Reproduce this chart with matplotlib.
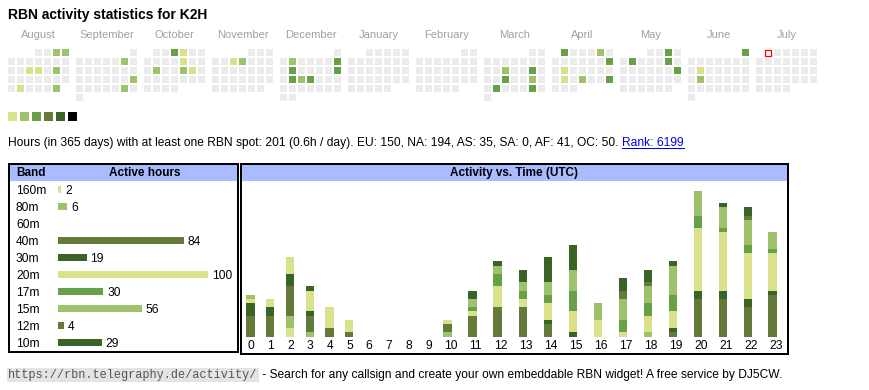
import calendar

import matplotlib
matplotlib.use("Agg")
import matplotlib.pyplot as plt
from matplotlib.patches import Rectangle
import numpy as np

W, H = 870, 390

# ---- data ----
CALLSIGN = "K2H"
month_names = ["August", "September", "October", "November", "December", "January",
               "February", "March", "April", "May", "June", "July"]
month_keys = [(2024, 8), (2024, 9), (2024, 10), (2024, 11), (2024, 12), (2025, 1),
              (2025, 2), (2025, 3), (2025, 4), (2025, 5), (2025, 6), (2025, 7)]
# activity level of each active day, per month (day -> level 1..6)
active_days = [
    {3: 2, 4: 2, 14: 1, 15: 1, 17: 2, 27: 1, 31: 2},
    {7: 2, 22: 2, 28: 2},
    {3: 3, 4: 1, 11: 1, 15: 2, 18: 2, 19: 1},
    {6: 1, 7: 2},
    {3: 2, 8: 3, 10: 3, 15: 3, 17: 3, 18: 2, 19: 3},
    {},
    {},
    {12: 2, 15: 3, 19: 3, 22: 2, 25: 3, 29: 3},
    {1: 3, 5: 2, 13: 3, 15: 1, 22: 1, 24: 2, 27: 3},
    {3: 3, 6: 3, 10: 3, 18: 3},
    {1: 3, 10: 1, 17: 2},
    {},
]
today = (2025, 7, 1)

level_colors = ["#ebebeb", "#d9e18a", "#9ec16b", "#67a048", "#637a3b", "#3a6427", "#000000"]

bands = ["160m", "80m", "60m", "40m", "30m", "20m", "17m", "15m", "12m", "10m"]
band_hours = [2, 6, 0, 84, 19, 100, 30, 56, 4, 29]
band_levels = [1, 2, 3, 4, 5, 1, 3, 2, 4, 5]

hours = list(range(24))
hourly_160m = [0, 0, 2, 0, 0, 0, 0, 0, 0, 0, 0, 0, 0, 0, 0, 0, 0, 0, 0, 0, 0, 0, 0, 0]
hourly_80m = [0, 0, 3, 1, 0, 0, 0, 0, 0, 0, 1, 0, 0, 0, 0, 0, 0, 0, 1, 0, 0, 0, 0, 0]
hourly_60m = [0, 0, 0, 0, 0, 0, 0, 0, 0, 0, 0, 0, 0, 0, 0, 0, 0, 0, 0, 0, 0, 0, 0, 0]
hourly_40m = [5, 5, 7, 4, 2, 1, 0, 0, 0, 0, 2, 5, 7, 7, 3, 0, 0, 0, 0, 1, 9, 9, 7, 10]
hourly_30m = [3, 2, 3, 1, 0, 0, 0, 0, 0, 0, 0, 0, 0, 0, 1, 1, 0, 0, 0, 1, 2, 2, 2, 1]
hourly_20m = [1, 2, 4, 5, 5, 3, 0, 0, 0, 0, 1, 1, 5, 2, 4, 5, 4, 1, 4, 4, 15, 14, 11, 9]
hourly_17m = [0, 0, 0, 0, 0, 0, 0, 0, 0, 0, 0, 1, 3, 2, 2, 5, 0, 3, 3, 4, 3, 1, 2, 1]
hourly_15m = [1, 0, 0, 0, 0, 0, 0, 0, 0, 0, 0, 2, 2, 2, 3, 5, 4, 5, 4, 7, 6, 5, 6, 4]
hourly_12m = [0, 0, 0, 0, 0, 0, 0, 0, 0, 0, 0, 0, 0, 0, 0, 0, 0, 2, 1, 0, 0, 0, 1, 0]
hourly_10m = [0, 0, 0, 1, 0, 0, 0, 0, 0, 0, 0, 2, 1, 3, 6, 6, 0, 3, 3, 1, 0, 1, 2, 0]

total_hours = 201
per_day = 0.6
continents = ["EU", "NA", "AS", "SA", "AF", "OC"]
continent_hours = [150, 194, 35, 0, 41, 50]
rank = 6199

url = "https://rbn.telegraphy.de/activity/"
footer = " - Search for any callsign and create your own embeddable RBN widget! A free service by DJ5CW."

# ---- layout ----
plt.rcParams["font.family"] = ["Liberation Sans", "DejaVu Sans"]
HEADER_BLUE = "#aabbff"
TEXT_PT = 8.63

fig = plt.figure(figsize=(W / 100, H / 100), dpi=100)
bg = fig.add_axes([0, 0, 1, 1])
bg.set_xlim(0, W)
bg.set_ylim(H, 0)
bg.axis("off")


def px_axes(x0, y0, x1, y1):
    """Axes placed by pixel box (top-left origin)."""
    ax = fig.add_axes([x0 / W, 1 - y1 / H, (x1 - x0) / W, (y1 - y0) / H])
    ax.patch.set_alpha(0)
    for s in ax.spines.values():
        s.set_visible(False)
    return ax


bg.text(8, 19.5, f"RBN activity statistics for {CALLSIGN}", fontsize=10,
        fontweight="bold", va="baseline")

# calendar heat map
CELL, STEP, BLOCK = 7, 9, 68
cal_x0, cal_y0 = 8, 49
for m, ((year, month), name) in enumerate(zip(month_keys, month_names)):
    first_wd, ndays = calendar.monthrange(year, month)
    bx = cal_x0 + m * BLOCK
    bg.text(bx + (7 * STEP - 2) / 2, 38.5, name, ha="center", va="baseline",
            fontsize=8, color="#a0a0a0")
    for d in range(1, ndays + 1):
        row, col = divmod(first_wd + d - 1, 7)
        lvl = active_days[m].get(d, 0)
        if (year, month, d) == today:
            bg.add_patch(Rectangle((bx + col * STEP + 0.5, cal_y0 + row * STEP + 0.5),
                                   CELL - 1, CELL - 1, facecolor="white",
                                   edgecolor="red", lw=0.9))
        else:
            bg.add_patch(Rectangle((bx + col * STEP, cal_y0 + row * STEP), CELL, CELL,
                                   facecolor=level_colors[lvl], edgecolor="none"))

# level legend
for i, c in enumerate(level_colors[1:]):
    bg.add_patch(Rectangle((8 + 12 * i, 112), 9, 9, facecolor=c, edgecolor="none"))

# summary line
cont_txt = ", ".join(f"{c}: {v}" for c, v in zip(continents, continent_hours))
summary = bg.text(8, 146, f"Hours (in 365 days) with at least one RBN spot: {total_hours} "
                  f"({per_day}h / day). {cont_txt}. ", fontsize=TEXT_PT, va="baseline")

# panels
bg.add_patch(Rectangle((10, 165), 227, 16, facecolor=HEADER_BLUE, edgecolor="none"))
bg.add_patch(Rectangle((242, 165), 545, 16, facecolor=HEADER_BLUE, edgecolor="none"))
bg.add_patch(Rectangle((9, 164), 229, 188, facecolor="none", edgecolor="black", lw=1.44))
bg.add_patch(Rectangle((241, 164), 547, 190, facecolor="none", edgecolor="black", lw=1.44))
bg.text(16, 173, "Band", fontsize=8.5, fontweight="bold", va="center")
bg.text(144.5, 173, "Active hours", fontsize=8.5, fontweight="bold", va="center", ha="center")
bg.text(514.5, 173, "Activity vs. Time (UTC)", fontsize=8.5, fontweight="bold",
        va="center", ha="center")

# active hours per band
PX_PER_HOUR = 1.5
ax_band = px_axes(58, 181, 236, 351)
ax_band.set_xlim(0, 178 / PX_PER_HOUR)
ax_band.set_ylim(len(bands) - 0.5, -0.5)
ypos = np.arange(len(bands))
ax_band.barh(ypos, band_hours, height=7 / 17,
             color=[level_colors[l] for l in band_levels])
for y, v in zip(ypos, band_hours):
    if v > 0:
        ax_band.text(v + 4 / PX_PER_HOUR, y, str(v), va="center_baseline", fontsize=TEXT_PT)
ax_band.set_xticks([])
ax_band.set_yticks(ypos, bands, fontsize=TEXT_PT)
for lab in ax_band.get_yticklabels():
    lab.set_horizontalalignment("left")
    lab.set_verticalalignment("center_baseline")
ax_band.tick_params(axis="y", length=0, pad=42 * 0.72)

# activity vs time of day (stacked per band)
hourly = [hourly_160m, hourly_80m, hourly_60m, hourly_40m, hourly_30m,
          hourly_20m, hourly_17m, hourly_15m, hourly_12m, hourly_10m]
PX_PER_UNIT = 4.17
col_w = np.array([19.7 if h < 10 else 25.0 for h in hours])
col_left = np.concatenate([[0], np.cumsum(col_w)[:-1]])
x0h, base = 241.2, 336.5
ax_hour = px_axes(x0h, 181, x0h + col_w.sum(), base)
ax_hour.set_xlim(0, col_w.sum())
ax_hour.set_ylim(0, (base - 181) / PX_PER_UNIT)
bottom = np.zeros(24)
for vals, lvl in zip(hourly, band_levels):
    vals = np.array(vals, dtype=float)
    ax_hour.bar(col_left + 5.3, vals, width=8.3, bottom=bottom, align="edge",
                color=level_colors[lvl], linewidth=0)
    bottom += vals
ax_hour.set_yticks([])
ax_hour.set_xticks(col_left + col_w / 2, [str(h) for h in hours], fontsize=TEXT_PT)
ax_hour.tick_params(axis="x", length=0, pad=2.5)

# footer
url_txt = bg.text(8, 378, url, fontsize=8.6, family=["Liberation Mono", "DejaVu Sans Mono"],
                  va="baseline", color="#555555",
                  bbox=dict(facecolor="#e4e4e4", edgecolor="none", pad=1.0))

fig.canvas.draw()
inv = bg.transData.inverted()

# link after the summary line, underlined
bb = summary.get_window_extent()
lx = inv.transform((bb.x1, bb.y0))[0]
link = bg.text(lx, 146, f"Rank: {rank}", fontsize=TEXT_PT, va="baseline", color="#0000ee")
fig.canvas.draw()
lb = link.get_window_extent()
bg.plot([lx, inv.transform((lb.x1, lb.y0))[0]], [147.5, 147.5], color="#0000ee", lw=0.72)

ub = url_txt.get_window_extent()
fx = inv.transform((ub.x1, ub.y0))[0] + 1.5
bg.text(fx, 378, footer, fontsize=TEXT_PT, va="baseline")

fig.savefig("out.png", dpi=100)
